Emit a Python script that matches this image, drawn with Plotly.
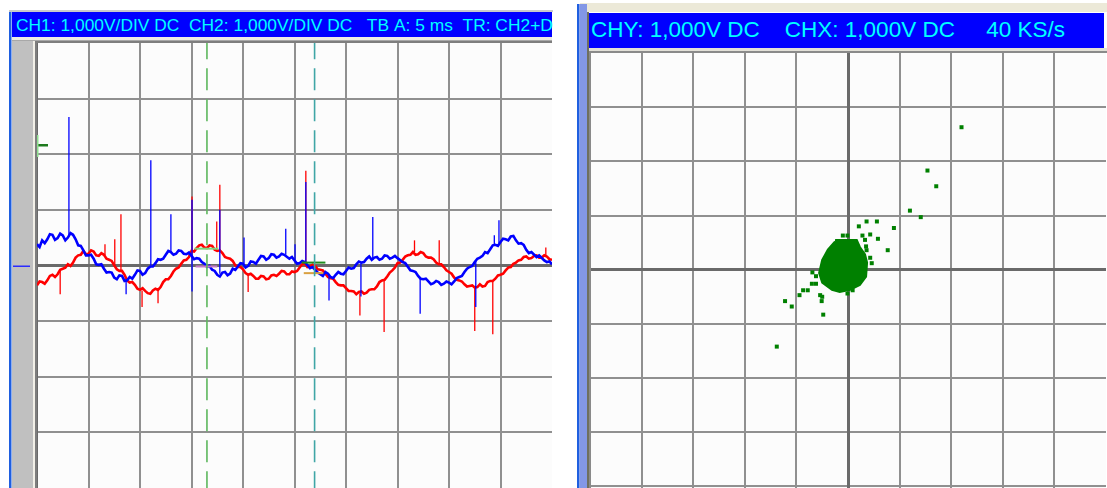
import plotly.graph_objects as go

W, H = 1107, 488

# ---------------- Left panel: Y-T mode (CH1 red, CH2 blue), 5 ms/div, 1 V/div
t_ms = [round(0.25 * i, 2) for i in range(201)]  # sample grid, 0..50 ms

blue_v = [0.38, 0.33, 0.45, 0.40, 0.47, 0.56, 0.55, 0.46, 0.49, 0.57,
          0.54, 0.45, 0.50, 0.58, 0.55, 0.47, 0.36, 0.35, 0.27, 0.18,
          0.18, 0.19, 0.12, 0.02, 0.01, 0.02, -0.06, -0.13, -0.12, -0.13,
          -0.22, -0.25, -0.18, -0.19, -0.28, -0.27, -0.21, -0.24, -0.17, -0.09,
          -0.10, -0.17, -0.14, -0.06, -0.02, -0.02, 0.04, 0.11, 0.10, 0.12,
          0.19, 0.26, 0.24, 0.19, 0.21, 0.27, 0.26, 0.21, 0.20, 0.23,
          0.17, 0.11, 0.13, 0.12, 0.06, 0.03, -0.03, -0.01, -0.08, -0.10,
          -0.17, -0.20, -0.13, -0.12, -0.18, -0.15, -0.06, -0.08, -0.02, 0.04,
          0.03, -0.04, -0.01, 0.07, 0.06, 0.03, 0.10, 0.17, 0.16, 0.10,
          0.13, 0.20, 0.19, 0.14, 0.16, 0.21, 0.19, 0.15, 0.12, 0.15,
          0.10, 0.03, 0.04, 0.08, 0.06, 0.00, -0.05, -0.03, -0.09, -0.13,
          -0.16, -0.19, -0.12, -0.15, -0.21, -0.23, -0.17, -0.12, -0.15, -0.16,
          -0.10, -0.04, -0.06, -0.05, 0.02, 0.07, 0.05, 0.06, 0.12, 0.16,
          0.10, 0.14, 0.15, 0.10, 0.12, 0.18, 0.17, 0.12, 0.14, 0.17,
          0.13, 0.09, 0.06, 0.04, -0.03, -0.09, -0.10, -0.12, -0.19, -0.24,
          -0.25, -0.24, -0.29, -0.34, -0.32, -0.28, -0.30, -0.35, -0.33, -0.29,
          -0.31, -0.34, -0.29, -0.23, -0.21, -0.19, -0.12, -0.06, -0.03, -0.01,
          0.06, 0.12, 0.14, 0.17, 0.24, 0.22, 0.29, 0.36, 0.37, 0.35,
          0.42, 0.48, 0.47, 0.45, 0.52, 0.53, 0.45, 0.39, 0.40, 0.37,
          0.28, 0.22, 0.24, 0.20, 0.15, 0.18, 0.13, 0.09, 0.06, 0.07,
          0.02]

red_v = [-0.36, -0.29, -0.30, -0.33, -0.27, -0.19, -0.17, -0.21, -0.16, -0.08,
         -0.06, -0.04, 0.02, -0.01, 0.05, 0.14, 0.18, 0.19, 0.26, 0.20,
         0.21, 0.27, 0.25, 0.18, 0.17, 0.22, 0.19, 0.12, 0.10, 0.08,
         0.00, -0.07, -0.10, -0.10, -0.17, -0.27, -0.31, -0.30, -0.35, -0.42,
         -0.44, -0.41, -0.46, -0.50, -0.51, -0.45, -0.42, -0.44, -0.39, -0.30,
         -0.25, -0.25, -0.19, -0.11, -0.06, -0.04, 0.03, 0.09, 0.10, 0.15,
         0.26, 0.25, 0.31, 0.36, 0.37, 0.32, 0.31, 0.36, 0.35, 0.28,
         0.26, 0.27, 0.22, 0.15, 0.13, 0.12, 0.08, 0.00, -0.03, -0.03,
         -0.07, -0.14, -0.17, -0.15, -0.19, -0.24, -0.24, -0.19, -0.20, -0.25,
         -0.24, -0.18, -0.17, -0.19, -0.15, -0.10, -0.11, -0.16, -0.16, -0.11,
         -0.12, -0.10, -0.04, 0.02, 0.03, -0.03, -0.02, 0.01, -0.01, -0.07,
         -0.08, -0.09, -0.15, -0.21, -0.23, -0.24, -0.30, -0.35, -0.36, -0.36,
         -0.41, -0.46, -0.46, -0.47, -0.52, -0.48, -0.47, -0.51, -0.49, -0.44,
         -0.43, -0.43, -0.38, -0.30, -0.27, -0.26, -0.20, -0.13, -0.09, -0.04,
         0.04, 0.05, 0.10, 0.16, 0.18, 0.19, 0.24, 0.19, 0.20, 0.24,
         0.22, 0.16, 0.14, 0.14, 0.11, 0.05, 0.02, 0.02, -0.03, -0.09,
         -0.12, -0.15, -0.22, -0.26, -0.27, -0.29, -0.34, -0.38, -0.37, -0.36,
         -0.40, -0.39, -0.34, -0.38, -0.37, -0.30, -0.28, -0.28, -0.24, -0.18,
         -0.17, -0.15, -0.09, -0.04, -0.03, 0.03, 0.05, 0.09, 0.10, 0.15,
         0.16, 0.12, 0.13, 0.17, 0.18, 0.14, 0.14, 0.18, 0.16, 0.11,
         0.10]

# spikes: time (ms), start level (V), tip level (V)
blue_spike_t = [3.1, 8.65, 11.05, 13.0, 15.05, 17.75, 20.1, 24.15, 25.05, 26.1,
                28.35, 31.45, 32.6, 37.2, 42.6, 44.4, 44.85]
blue_spike_from = [0.52, -0.25, 0.0, 0.24, -0.47, -0.15, 0.03, 0.19, 0.10, 0.05,
                   -0.2, 0.04, 0.10, -0.21, 0.08, 0.35, 0.40]
blue_spike_to = [2.67, -0.52, 1.89, 0.92, 1.18, 1.0, 0.5, 0.66, 0.38, 1.5,
                 -0.63, -0.56, 0.87, -0.87, -0.75, 0.54, 0.81]

red_spike_t = [2.25, 6.6, 7.55, 8.15, 10.2, 11.75, 15.05, 17.45, 17.75, 20.5,
               26.1, 31.35, 33.7, 36.65, 39.05, 42.5, 44.25, 49.4]
red_spike_from = [-0.08, 0.18, 0.0, -0.12, -0.45, -0.42, 0.26, 0.26, 0.24, -0.17,
                  0.03, -0.5, -0.27, 0.24, 0.02, -0.4, -0.3, 0.15]
red_spike_to = [-0.52, 0.38, 0.47, 0.92, -0.75, -0.68, 1.24, 0.79, 1.45, -0.48,
                1.7, -0.9, -1.2, 0.45, 0.45, -1.18, -1.24, 0.32]

cursor_t = [16.5, 26.95]
cursor_colors = ["#5DB75D", "#3FA6A6"]

# small cursor read-out marks: (t0, t1, level, colour)
mark_t0 = [15.3, 15.4, 25.7, 25.9]
mark_t1 = [17.6, 17.5, 28.0, 27.8]
mark_v = [0.30, -0.02, 0.05, -0.14]
mark_c = ["#7FD67F", "#C57AC5", "#1F8F1F", "#D9A040"]

header_left = "CH1: 1,000V/DIV DC  CH2: 1,000V/DIV DC   TB A: 5 ms  TR: CH2+D"

# ---------------- Right panel: X-Y mode, 1 V/div both
blob_x = [-0.25, 0.17, 0.23, 0.33, 0.37, 0.35, 0.23, 0.04, -0.16, -0.31, -0.50, -0.56, -0.50, -0.39, -0.25]
blob_y = [0.55, 0.55, 0.42, 0.28, 0.13, -0.13, -0.28, -0.37, -0.41, -0.37, -0.24, -0.06, 0.18, 0.37, 0.52]

pts_x = [2.20, 1.54, 1.71, 1.20, 1.41, 0.89, 0.56, 0.36, 0.21, 0.43, 0.28, 0.33, 0.58, 0.77,
         0.35, 0.36, 0.43, 0.46, -0.10, -0.01, -0.69, -0.62, -0.70, -0.62, -0.87, -0.78,
         -0.94, -0.54, -0.50, -0.51, -1.22, -1.09, -0.48, 0.09, -0.01, -1.38]
pts_y = [2.63, 1.83, 1.54, 1.09, 0.97, 0.77, 0.89, 0.89, 0.80, 0.65, 0.63, 0.55, 0.57, 0.36,
         0.43, 0.36, 0.22, 0.12, 0.63, 0.63, -0.05, -0.12, -0.26, -0.26, -0.38, -0.38,
         -0.47, -0.47, -0.50, -0.58, -0.58, -0.68, -0.83, -0.38, -0.44, -1.42]

header_right = "CHY: 1,000V DC    CHX: 1,000V DC     40 KS/s"


def spikes(ts, f, to):
    xs, ys = [], []
    for a, b, c in zip(ts, f, to):
        xs += [a, a, None]
        ys += [b, c, None]
    return xs, ys


fig = go.Figure()

rx, ry = spikes(red_spike_t, red_spike_from, red_spike_to)
bx, by = spikes(blue_spike_t, blue_spike_from, blue_spike_to)

fig.add_trace(go.Scatter(x=t_ms, y=red_v, mode="lines", line=dict(color="#FF0000", width=2.6),
                         xaxis="x", yaxis="y", hoverinfo="skip"))
fig.add_trace(go.Scatter(x=rx, y=ry, mode="lines", line=dict(color="#FF0000", width=1.3),
                         xaxis="x", yaxis="y", hoverinfo="skip"))
fig.add_trace(go.Scatter(x=t_ms, y=blue_v, mode="lines", line=dict(color="#0000FF", width=2.6),
                         xaxis="x", yaxis="y", hoverinfo="skip"))
fig.add_trace(go.Scatter(x=bx, y=by, mode="lines", line=dict(color="#0000FF", width=1.3),
                         xaxis="x", yaxis="y", hoverinfo="skip"))

# cursor read-out marks
for a, b, v, c in zip(mark_t0, mark_t1, mark_v, mark_c):
    fig.add_trace(go.Scatter(x=[a, b], y=[v, v], mode="lines", line=dict(color=c, width=2),
                             xaxis="x", yaxis="y", hoverinfo="skip"))

# cursors
for ct, cc in zip(cursor_t, cursor_colors):
    fig.add_trace(go.Scatter(x=[ct, ct], y=[-4.1, 4.1], mode="lines",
                             line=dict(color=cc, width=1.6, dash="22px,9px"),
                             xaxis="x", yaxis="y", hoverinfo="skip"))

# XY
fig.add_trace(go.Scatter(x=blob_x, y=blob_y, mode="lines", fill="toself", fillcolor="#008000",
                         line=dict(color="#008000", width=2), xaxis="x2", yaxis="y2", hoverinfo="skip"))
fig.add_trace(go.Scatter(x=pts_x, y=pts_y, mode="markers",
                         marker=dict(symbol="square", size=4, color="#008000", line=dict(width=0)),
                         xaxis="x2", yaxis="y2", hoverinfo="skip"))


def px(x):
    return x / W


def py(y):
    return 1 - y / H


shapes = []


def rect(x0, y0, x1, y1, color, layer="below"):
    shapes.append(dict(type="rect", xref="paper", yref="paper", x0=px(x0), x1=px(x1),
                       y0=py(y1), y1=py(y0), fillcolor=color, line=dict(width=0), layer=layer))


# left frame
rect(9, 10, 553, 12, "#C9C9C9")
rect(9, 12, 11.5, 488, "#1F5FE0")
rect(12, 12, 552, 37, "#0000FF")
rect(12, 37, 552, 40, "#EEECE4")
rect(12, 40, 552, 41, "#A8A8A8")
rect(12, 41, 33, 488, "#C0C0C0")
rect(33, 41, 35, 488, "#F2F0E8")
rect(35, 41, 37, 488, "#7E7E7E", "above")
rect(35, 41, 552, 43, "#7E7E7E", "above")
# left markers
rect(37, 144, 48, 146.5, "#1E7A1E", "above")
rect(37, 135, 38.5, 157, "#8FE08F", "above")
rect(13, 265.5, 30, 267, "#2B2BFF", "above")

# right frame
rect(580, 3, 1107, 12, "#ECE9D8")
rect(577, 4, 579.5, 488, "#1F5FE0")
rect(579.5, 4, 587, 488, "#8397E6")
rect(587, 12, 589, 488, "#6F6F5F")
rect(589, 13, 1104, 48, "#0000FF")
rect(589, 48, 1107, 51, "#E2E0D8")
rect(589, 51, 1107, 53, "#8A8A8A", "above")
rect(589, 51, 591, 488, "#8A8A8A", "above")

annotations = [
    dict(text=header_left.replace(" ", "\u00a0"), xref="paper", yref="paper", x=px(14), y=py(25),
         xanchor="left", yanchor="middle", showarrow=False,
         font=dict(family="Liberation Sans, Arial", size=17.4, color="#00FFFF")),
    dict(text=header_right.replace(" ", "\u00a0"), xref="paper", yref="paper", x=px(589), y=py(29),
         xanchor="left", yanchor="middle", showarrow=False,
         font=dict(family="Liberation Sans, Arial", size=22.5, color="#00FFFF")),
]

grid_common = dict(showticklabels=False, ticks="", showline=False, gridcolor="#909090",
                   gridwidth=2, zeroline=True, zerolinecolor="#6A6A6A", fixedrange=True)

fig.update_layout(
    width=W, height=H, margin=dict(l=0, r=0, t=0, b=0),
    paper_bgcolor="#FFFFFF", plot_bgcolor="#FCFCFC", showlegend=False,
    shapes=shapes, annotations=annotations,
    xaxis=dict(domain=[px(37), px(552)], range=[0, 50], dtick=5, **grid_common, zerolinewidth=2),
    yaxis=dict(domain=[0, py(43)], range=[-4.005, 4], dtick=1, **grid_common, zerolinewidth=2.5),
    xaxis2=dict(domain=[px(590), px(1106)], range=[-5, 5], dtick=1, **grid_common, zerolinewidth=3),
    yaxis2=dict(domain=[0, py(53)], range=[-4.03, 4], dtick=1, anchor="x2", **grid_common, zerolinewidth=3),
)
fig.update_layout(xaxis2=dict(anchor="y2"))

fig.write_html("out.html", config={"displayModeBar": False, "staticPlot": True},
               post_script="document.body.style.margin='0';document.body.style.overflow='hidden';")
